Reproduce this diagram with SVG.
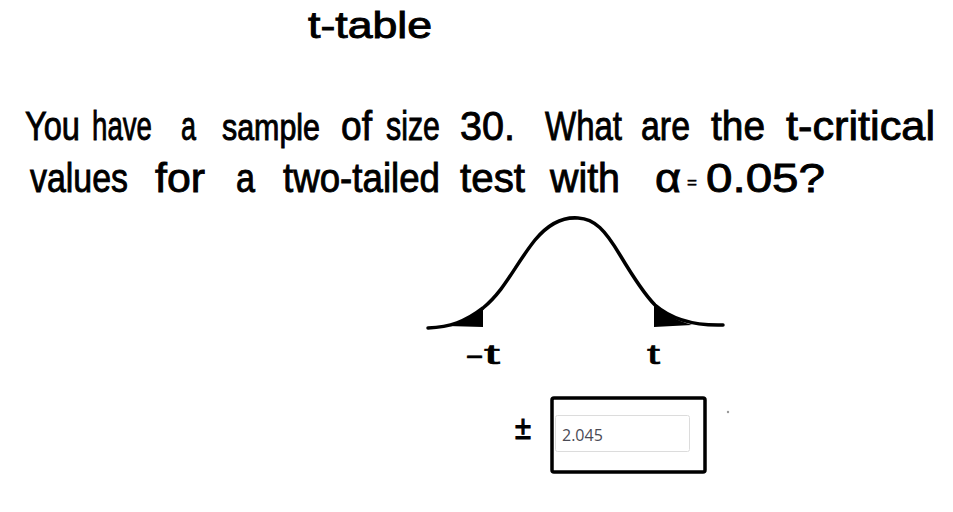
<svg xmlns="http://www.w3.org/2000/svg" width="953" height="512" viewBox="0 0 953 512">
<style>
.h{font-family:"Liberation Sans","DejaVu Sans",sans-serif;fill:#000;stroke:#000;stroke-width:0.9;font-size:41px}
.s{font-family:"Liberation Sans",sans-serif;fill:#000;stroke:#000;stroke-width:0.6;font-size:28px}
.ink{fill:none;stroke:#000;stroke-width:3.5;stroke-linecap:round;stroke-linejoin:round}
</style>
<rect width="953" height="512" fill="#fff"/>
<g id="title"><text class="h" x="308" y="38" style="font-size:36px" textLength="124" lengthAdjust="spacingAndGlyphs">t-table</text></g>
<g id="question">
<text class="h" x="25" y="140" textLength="55" lengthAdjust="spacingAndGlyphs">You</text>
<text class="h" x="92" y="140" textLength="60" lengthAdjust="spacingAndGlyphs">have</text>
<text class="h" x="181" y="140" textLength="15" lengthAdjust="spacingAndGlyphs">a</text>
<text class="h" x="222" y="140" style="font-size:36px" textLength="98" lengthAdjust="spacingAndGlyphs">sample</text>
<text class="h" x="341" y="140" textLength="31" lengthAdjust="spacingAndGlyphs">of</text>
<text class="h" x="386" y="140" textLength="54" lengthAdjust="spacingAndGlyphs">size</text>
<text class="h" x="460" y="140" textLength="55" lengthAdjust="spacingAndGlyphs">30.</text>
<text class="h" x="545" y="140" textLength="77" lengthAdjust="spacingAndGlyphs">What</text>
<text class="h" x="641" y="140" textLength="49" lengthAdjust="spacingAndGlyphs">are</text>
<text class="h" x="711" y="140" textLength="54" lengthAdjust="spacingAndGlyphs">the</text>
<text class="h" x="786" y="140" textLength="149" lengthAdjust="spacingAndGlyphs">t-critical</text>
<text class="h" x="30" y="192" textLength="98" lengthAdjust="spacingAndGlyphs">values</text>
<text class="h" x="155" y="192" textLength="50" lengthAdjust="spacingAndGlyphs">for</text>
<text class="h" x="236" y="192" textLength="19" lengthAdjust="spacingAndGlyphs">a</text>
<text class="h" x="283" y="192" textLength="157" lengthAdjust="spacingAndGlyphs">two-tailed</text>
<text class="h" x="460" y="192" textLength="65" lengthAdjust="spacingAndGlyphs">test</text>
<text class="h" x="550" y="192" textLength="70" lengthAdjust="spacingAndGlyphs">with</text>
<text class="h" x="655" y="192" textLength="26" lengthAdjust="spacingAndGlyphs">α</text>
<text class="h" x="687" y="188" style="font-size:17px;stroke-width:0.5" textLength="10" lengthAdjust="spacingAndGlyphs">=</text>
<text class="h" x="706" y="192" textLength="119" lengthAdjust="spacingAndGlyphs">0.05?</text>
</g>
<g id="curve">
<path d="M447,326 C460,322 472,316 483,307 L483,327 Z" fill="#000"/>
<path d="M654,304 C665,314 675,320 692,325 L654,327 Z" fill="#000"/>
<path class="ink" d="M428,328 C450,327 465,322 483,308 C505,290 515,265 535,240 C550,222 565,217 578,218 C595,219 605,230 620,255 C635,280 645,295 655,305 C670,318 690,326 723,325"/>
<text class="s" x="465" y="364" textLength="35" lengthAdjust="spacingAndGlyphs">-t</text>
<text class="s" x="647" y="364" textLength="13" lengthAdjust="spacingAndGlyphs">t</text>
</g>
<g id="answer">
<text class="s" x="515" y="439" style="font-size:34px;stroke-width:1.2" textLength="16" lengthAdjust="spacingAndGlyphs">±</text>
<rect x="552" y="398" width="153" height="74" rx="2" fill="#fff" stroke="#000" stroke-width="3.5"/>
<rect x="555.5" y="415.5" width="134" height="36" rx="2" fill="#fff" stroke="#dcdcdc" stroke-width="1"/>
<text x="562" y="441" font-family="'Open Sans',sans-serif" font-size="16" fill="#4a4a55">2.045</text>
<circle cx="728" cy="412" r="1.2" fill="#999"/>
</g>
</svg>
